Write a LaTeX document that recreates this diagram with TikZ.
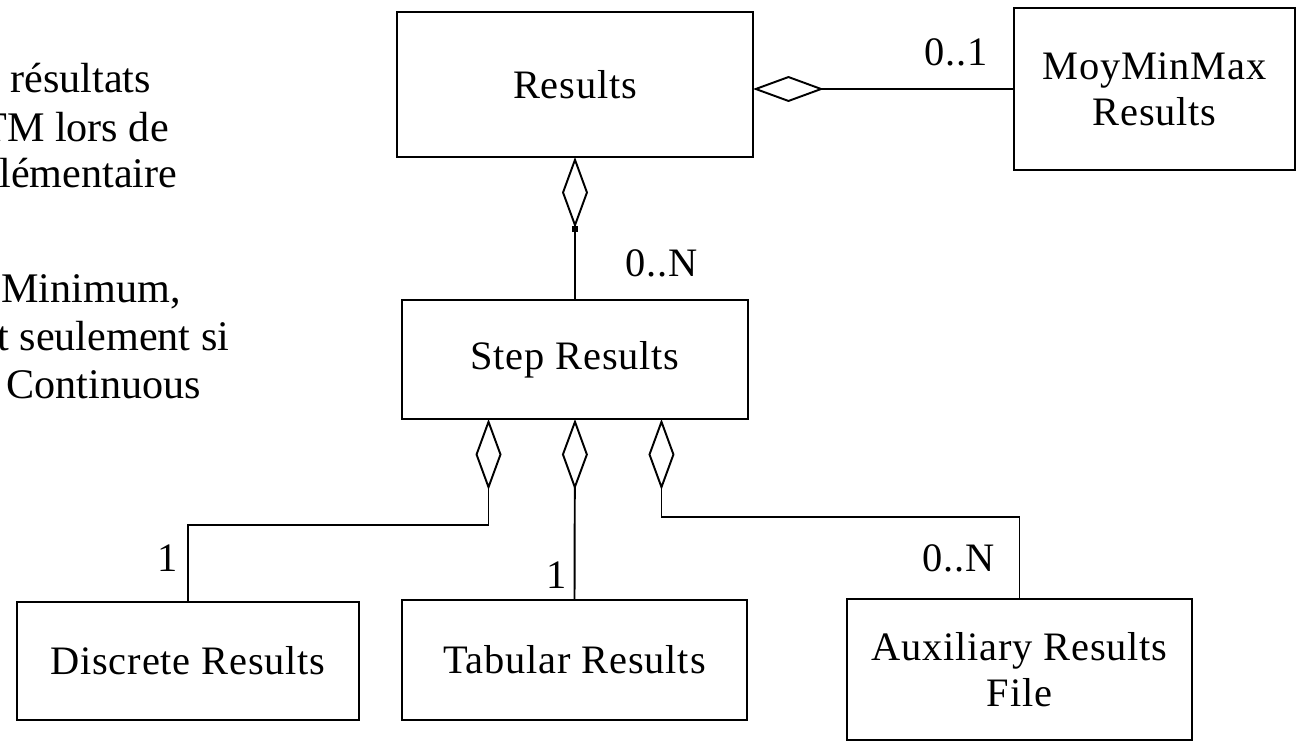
\documentclass[tikz,border=0pt]{standalone}
\usepackage{fontspec}
\setmainfont{Liberation Serif}
\newfontfamily\umlfont[LetterSpace=2]{Liberation Serif}
\usetikzlibrary{arrows.meta,calc}

\begin{document}
\begin{tikzpicture}[x=0.02cm,y=-0.02cm,
  classbox/.style={draw, line width=1.1pt, inner sep=0pt, outer sep=0pt,
    align=center, font=\umlfont\fontsize{23}{26}\selectfont},
  mult/.style={inner sep=0pt, font=\umlfont\fontsize{23}{26}\selectfont},
  note/.style={anchor=base west, inner sep=0pt, font=\fontsize{24}{28}\selectfont},
  link/.style={line width=1.1pt},
  agg/.style={link, {Diamond[open, length=1.42cm, width=0.52cm]}-}
]
\useasboundingbox (0,0) rectangle (1296,750);
\clip (0,0) rectangle (1296,750);

% explanatory text on the left
\node[note] (n1) at (10,93)   {résultats};
\node[note] (n2) at (-19,142) {TM lors de};
\node[note] (n3) at (-1,188)  {lémentaire};
\node[note] (n4) at (1,302)   {Minimum,};
\node[note] (n5) at (-3,350)  {t seulement si};
\node[note] (n6) at (6,398)   {Continuous};

% classes
\node[classbox, minimum width=7.12cm, minimum height=2.9cm]  (res)  at (575,84.5)   {Results};
\node[classbox, minimum width=5.62cm, minimum height=3.24cm] (moy)  at (1154.5,89)  {MoyMinMax\\Results};
\node[classbox, minimum width=6.92cm, minimum height=2.38cm] (step) at (575,359.5)  {Step Results};
\node[classbox, minimum width=6.84cm, minimum height=2.36cm] (disc) at (188,661)    {Discrete Results};
\node[classbox, minimum width=6.9cm,  minimum height=2.4cm]  (tab)  at (574.5,660)  {Tabular Results};
\node[classbox, minimum width=6.9cm,  minimum height=2.82cm] (aux)  at (1019.5,669.5) {Auxiliary Results\\File};

% aggregations
\draw[agg] (res.east |- moy.west) -- (moy.west);
\draw[agg] (res.south) -- (step.north);
\fill ($(res.south)+(-3,69)$) rectangle ++(6,6);

\coordinate (s1) at ($(step.south west)!0.25!(step.south east)$);
\coordinate (s3) at ($(step.south west)!0.75!(step.south east)$);
\draw[agg] (s1) -- ++(0,106) -| (disc.north);
\draw[agg] (step.south) -- (tab.north);
\draw[agg] (s3) -- ++(0,98) -| (aux.north);

% multiplicities
\node[mult] (m1) at (956,52)  {0..1};
\node[mult] (m2) at (662,263) {0..N};
\node[mult] (m3) at (168,558) {1};
\node[mult] (m4) at (557,575) {1};
\node[mult] (m5) at (959,558) {0..N};
\end{tikzpicture}
\end{document}
